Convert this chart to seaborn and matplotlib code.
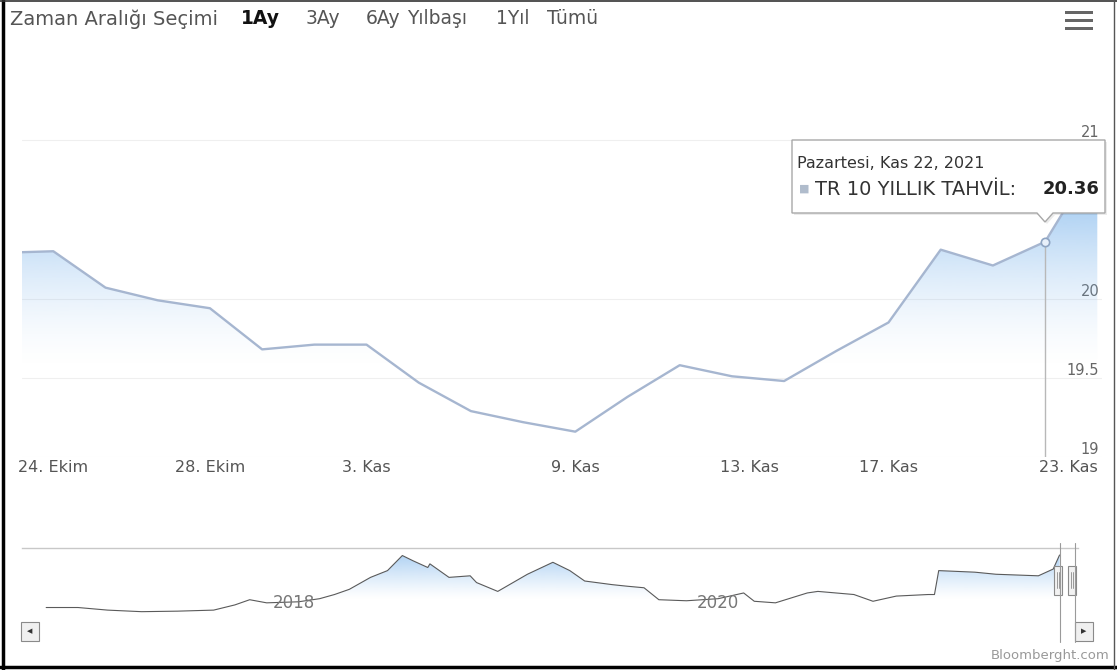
import numpy as np
import matplotlib
matplotlib.use('Agg')
import matplotlib.pyplot as plt
from matplotlib.patches import Rectangle, Polygon
from matplotlib.lines import Line2D
import matplotlib.transforms as mtransforms
import seaborn as sns

# --- 1 aylik gorunum (ordinal eksen, sadece islem gunleri) ---
trade_days = ['2021-10-22', '2021-10-25', '2021-10-26', '2021-10-27', '2021-10-28',
              '2021-11-01', '2021-11-02', '2021-11-03', '2021-11-04', '2021-11-05',
              '2021-11-08', '2021-11-09', '2021-11-10', '2021-11-11', '2021-11-12',
              '2021-11-15', '2021-11-16', '2021-11-17', '2021-11-18', '2021-11-19',
              '2021-11-22', '2021-11-23']
yields = [20.29, 20.30, 20.07, 19.99, 19.94, 19.68, 19.71, 19.71, 19.47, 19.29,
          19.22, 19.16, 19.38, 19.58, 19.51, 19.48, 19.67, 19.85, 20.31, 20.21,
          20.36, 20.90]

x_tick_pos = [1, 4, 7, 11, 14.33, 17, 21]
x_tick_labels = ['24. Ekim', '28. Ekim', '3. Kas', '9. Kas', '13. Kas', '17. Kas', '23. Kas']
y_ticks = [19, 19.5, 20, 21]
y_tick_labels = ['19', '19.5', '20', '21']

hover_idx = 20
tooltip_header = 'Pazartesi, Kas 22, 2021'
series_name = 'TR 10 YILLIK TAHVİL'

range_buttons = ['1Ay', '3Ay', '6Ay', 'Yılbaşı', '1Yıl', 'Tümü']
selected_button = '1Ay'

# --- navigator (tum veri) ---
nav_year = [2016.93, 2017.08, 2017.22, 2017.38, 2017.55, 2017.72, 2017.82, 2017.89,
            2017.97, 2018.12, 2018.22, 2018.29, 2018.36, 2018.46, 2018.54, 2018.61,
            2018.66, 2018.73, 2018.74, 2018.83, 2018.93, 2018.96, 2019.06, 2019.20,
            2019.32, 2019.40, 2019.47, 2019.60, 2019.67, 2019.75, 2019.82, 2019.95,
            2020.10, 2020.22, 2020.27, 2020.37, 2020.52, 2020.57, 2020.74, 2020.83,
            2020.94, 2021.09, 2021.12, 2021.14, 2021.31, 2021.41, 2021.61, 2021.68,
            2021.71]
nav_yield = [10.9, 10.9, 10.4, 10.1, 10.2, 10.4, 11.4, 12.4,
             11.8, 12.0, 12.6, 13.4, 14.4, 16.7, 18.0, 20.9,
             19.9, 18.6, 19.3, 16.7, 17.0, 15.7, 14.0, 17.3,
             19.6, 18.0, 16.0, 15.3, 15.0, 14.7, 12.4, 12.2,
             12.6, 13.7, 12.1, 11.8, 13.7, 14.0, 13.4, 12.1,
             13.1, 13.4, 13.4, 18.0, 17.7, 17.3, 17.0, 18.3,
             21.0]
nav_year_labels = [2018, 2020]

sns.set_theme(style='white')
plt.rcParams['font.family'] = ['DejaVu Sans']

W, H = 1117, 670


def fx(x):
    return x / W


def fy(y):
    return 1 - y / H


def gradient_area(ax, x, y, base, v0, v1, amax, color, power=1.6):
    # area altini yukaridan asagi solan mavi ile doldur
    poly = ax.fill_between(x, y, base, facecolor='none', edgecolor='none')
    top = max(y)
    v = np.linspace(base, top, 300)
    a = np.clip((v - v0) / (v1 - v0), 0, 1) ** power * amax
    img = np.zeros((300, 1, 4))
    img[:, 0, :3] = matplotlib.colors.to_rgb(color)
    img[:, 0, 3] = a
    im = ax.imshow(img, extent=[min(x), max(x), base, top], origin='lower',
                   aspect='auto', zorder=1, interpolation='bilinear')
    im.set_clip_path(poly.get_paths()[0], transform=ax.transData)


fig = plt.figure(figsize=(W / 100, H / 100), dpi=100)

# ---------------- ana grafik ----------------
ax = fig.add_axes([fx(22), fy(457), (1102 - 22) / W, (457 - 55) / H])
x = np.arange(len(trade_days))
gradient_area(ax, x, yields, 19.0, 19.55, 20.8, 0.85, '#7cb5ec')
sns.lineplot(x=x, y=yields, ax=ax, color='#a6b6d0', lw=1.7, zorder=3)
ax.vlines(x[hover_idx], 19.0, yields[hover_idx], color='#b8b8b8', lw=1, zorder=2)
ax.plot(x[hover_idx], yields[hover_idx], 'o', ms=6, mfc='#e8f0fa', mec='#8ea4c2',
        mew=1.2, zorder=4)

ax.set_xlim(0.40, 21.09)
ax.set_ylim(19.0, 21.54)
ax.set_xticks(x_tick_pos)
ax.set_xticklabels(x_tick_labels)
ax.set_yticks(y_ticks)
ax.set_yticklabels(y_tick_labels)
ax.yaxis.tick_right()
ax.tick_params(axis='x', length=0, pad=2, labelsize=11.5, labelcolor='#555555')
ax.tick_params(axis='y', length=0, pad=-2, labelsize=10.5, labelcolor='#666666')
for lab in ax.get_yticklabels():
    lab.set_ha('right')
    lab.set_va('bottom')
ax.get_xticklabels()[-1].set_ha('right')
ax.grid(axis='y', color='#efefef', lw=0.8)
ax.grid(axis='x', visible=False)
ax.set_xlabel('')
ax.set_ylabel('')
for s in ax.spines.values():
    s.set_visible(False)

# tooltip
box = [(792, 140), (1105, 140), (1105, 213), (1053, 213), (1045, 222),
       (1037, 213), (792, 213)]
shadow = Polygon([(fx(px + 2), fy(py + 2)) for px, py in box], closed=True,
                 transform=fig.transFigure, fc=(0, 0, 0, 0.08), ec='none', zorder=9)
fig.add_artist(shadow)
tip = Polygon([(fx(px), fy(py)) for px, py in box], closed=True,
              transform=fig.transFigure, fc='white', ec='#a8a8a8', lw=1, zorder=10)
fig.add_artist(tip)
fig.text(fx(797), fy(163), tooltip_header, fontsize=11.5, color='#333333',
         va='center', ha='left', zorder=11)
fig.text(fx(799), fy(189), '■', fontsize=8, color='#b0bccc', va='center',
         ha='left', zorder=11)
fig.text(fx(815), fy(189), series_name + ':', fontsize=14, color='#333333',
         va='center', ha='left', zorder=11)
fig.text(fx(1099), fy(189), f'{yields[hover_idx]:.2f}', fontsize=13,
         fontweight='bold', color='#222222', va='center', ha='right', zorder=11)

# range selector
fig.text(fx(10), fy(19), 'Zaman Aralığı Seçimi', fontsize=14, color='#555555',
         va='center', ha='left')
btn_x = [241, 306, 366, 407, 496, 547]
for bx, name in zip(btn_x, range_buttons):
    sel = name == selected_button
    fig.text(fx(bx), fy(19), name, fontsize=13.5, va='center', ha='left',
             color='#111111' if sel else '#555555',
             fontweight='bold' if sel else 'normal')

# menu ikonu
for yy in [11, 19, 27]:
    fig.add_artist(Rectangle((fx(1065), fy(yy + 3)), 28 / W, 3 / H,
                             transform=fig.transFigure, fc='#666666', ec='none'))

# ---------------- navigator ----------------
ax_nav = fig.add_axes([fx(22), fy(615), (1078 - 22) / W, (615 - 548) / H])
gradient_area(ax_nav, nav_year, nav_yield, 9.46, 12.5, 21.0, 0.6, '#7cb5ec', power=1.2)
sns.lineplot(x=nav_year, y=nav_yield, ax=ax_nav, color='#5a5a5a', lw=0.8, zorder=3)
ax_nav.set_xlim(2016.816, 2021.797)
ax_nav.set_ylim(9.46, 22.35)
ax_nav.set_xticks([])
ax_nav.set_yticks([])
ax_nav.set_xlabel('')
ax_nav.set_ylabel('')
ax_nav.grid(False)
ax_nav.patch.set_alpha(0)
for k, s in ax_nav.spines.items():
    s.set_visible(k == 'top')
ax_nav.spines['top'].set_color('#c8c8c8')
ax_nav.spines['top'].set_linewidth(1)
trans = mtransforms.blended_transform_factory(ax_nav.transData, ax_nav.transAxes)
for yr in nav_year_labels:
    ax_nav.text(yr, 0.18, str(yr), transform=trans, fontsize=12, color='#777777',
                ha='left', va='center', zorder=4)

# navigator tutamaclari
for lx in [1060, 1075]:
    fig.add_artist(Line2D([fx(lx), fx(lx)], [fy(543), fy(642)],
                          transform=fig.transFigure, color='#9a9a9a', lw=0.8))
for hx in [1054, 1068]:
    fig.add_artist(Rectangle((fx(hx), fy(595)), 8 / W, 29 / H,
                             transform=fig.transFigure, fc='#f2f2f2', ec='#8a8a8a', lw=0.8))
    for ix in [hx + 3, hx + 5]:
        fig.add_artist(Line2D([fx(ix), fx(ix)], [fy(572), fy(588)],
                              transform=fig.transFigure, color='#8a8a8a', lw=0.6))

# scrollbar butonlari
for bx, arrow in [(21, '◀'), (1075, '▶')]:
    fig.add_artist(Rectangle((fx(bx), fy(641)), 18 / W, 19 / H,
                             transform=fig.transFigure, fc='#f0f0f0', ec='#8a8a8a', lw=0.8))
    fig.text(fx(bx + 9), fy(631.5), arrow, fontsize=5, color='#333333',
             ha='center', va='center')

fig.text(fx(1110), fy(655), 'Bloomberght.com', fontsize=9.5, color='#999999',
         ha='right', va='center')

# tarama kenarligi
fig.add_artist(Line2D([fx(3), fx(3)], [0, 1], transform=fig.transFigure, color='black', lw=2.5))
fig.add_artist(Line2D([0, 1], [fy(667), fy(667)], transform=fig.transFigure, color='black', lw=2.5))
fig.add_artist(Line2D([0, 1], [fy(1), fy(1)], transform=fig.transFigure, color='#333333', lw=1.2))
fig.add_artist(Line2D([fx(1114), fx(1114)], [0, 1], transform=fig.transFigure, color='#555555', lw=1))

fig.savefig('out.png', dpi=100)
